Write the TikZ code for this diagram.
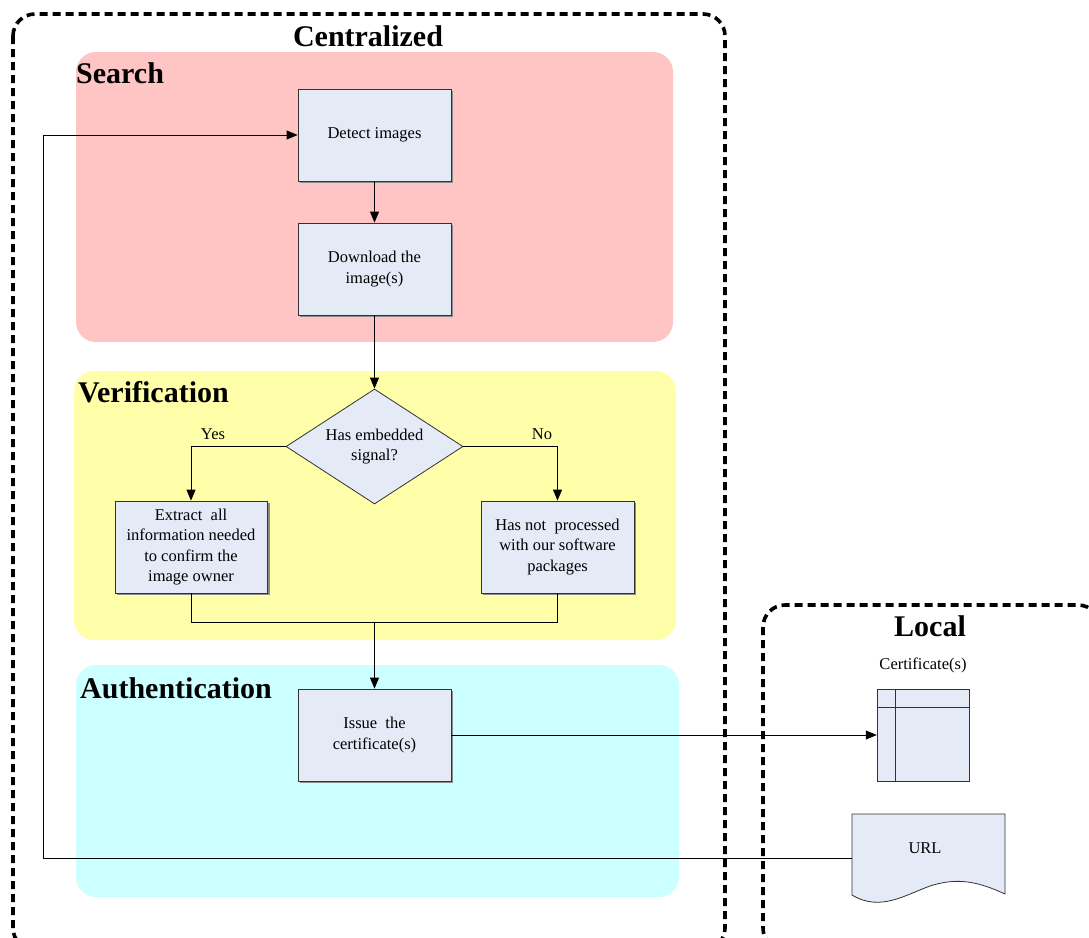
\documentclass[tikz,border=0pt]{standalone}
\usepackage{fontspec}
\setmainfont{Liberation Serif}
\usetikzlibrary{shapes.geometric,arrows.meta,calc}
\definecolor{pinkbg}{RGB}{255,196,196}
\definecolor{yellowbg}{RGB}{255,255,170}
\definecolor{cyanbg}{RGB}{204,255,255}
\definecolor{boxfill}{RGB}{228,235,247}
\definecolor{boxline}{RGB}{50,50,50}
\tikzset{
  region/.style={rounded corners=20pt},
  group/.style={draw=black, line width=3.6pt, dash pattern=on 8pt off 5pt, rounded corners=22pt},
  procbox/.style={draw=boxline, fill=boxfill, line width=0.8pt, minimum width=153pt, minimum height=92pt, align=center, font=\fontsize{16.5}{20.5}\selectfont, inner sep=2pt},
  decision/.style={diamond, draw=boxline, fill=boxfill, line width=0.8pt, minimum width=177pt, minimum height=115pt, aspect=1.54, inner sep=0pt, align=center, font=\fontsize{16.5}{20.5}\selectfont},
  conn/.style={draw=black, line width=0.8pt},
  arr/.style={conn, -{Triangle[length=11pt,width=9pt]}},
  regtitle/.style={font=\fontsize{30}{34}\selectfont\bfseries, anchor=west, inner sep=0pt},
  grptitle/.style={font=\fontsize{30}{34}\selectfont\bfseries, inner sep=0pt},
  lbl/.style={font=\fontsize{16.5}{20}\selectfont, inner sep=0pt},
}
\begin{document}
\begin{tikzpicture}[x=1pt,y=-1pt]
\useasboundingbox (0,0) rectangle (1089,937);
% regions
\fill[pinkbg, region] (76,52) rectangle (673,342);
\fill[yellowbg, region] (74,371) rectangle (676,640);
\fill[cyanbg, region] (76,665) rectangle (679,897);
% group boxes
\draw[group] (13,14) rectangle (725,950);
\draw[group] (763,605) rectangle (1100,950);
\node[grptitle] (tcent) at (368,36) {Centralized};
\node[grptitle] (tloc) at (930,626) {Local};
\node[regtitle] (tsearch) at (76,73) {Search};
\node[regtitle] (tver) at (78,392) {Verification};
\node[regtitle] (tauth) at (80,688) {Authentication};
% shadows
\foreach \xa/\ya in {298/89, 298/223, 115/501, 481/501, 298/689}
  \fill[black!45] (\xa+1.5,\ya+1.5) rectangle (\xa+154.5,\ya+93.5);
% process nodes
\node[procbox] (detect) at (374.5,135) {Detect images};
\node[procbox] (download) at (374.5,269) {Download the\\image(s)};
\node[decision] (dec) at (374.5,446.5) {Has embedded\\signal?};
\node[procbox, minimum width=152pt] (extract) at (191,547) {Extract\ \ all\\information needed\\to confirm the\\image owner};
\node[procbox] (hasnot) at (557.5,547) {Has not\ \ processed\\with our software\\packages};
\node[procbox] (issue) at (374.5,735) {Issue\ \ the\\certificate(s)};
% certificate icon
\draw[boxline, fill=boxfill, line width=0.8pt] (877,689) rectangle (969,781);
\node[inner sep=0pt, minimum width=92pt, minimum height=92pt] (cert) at (923,735) {};
\draw[boxline, line width=0.8pt] (877,707) -- (969,707);
\draw[boxline, line width=0.8pt] (895.5,689) -- (895.5,781);
\node[lbl] (certlbl) at (923,665) {Certificate(s)};
% URL document
\draw[boxline, fill=boxfill, line width=0.8pt] (852,814) -- (1005,814) -- (1005,894)
  .. controls (975,880) and (955,878) .. (930,886)
  .. controls (905,895) and (880,912) .. (852,895) -- cycle;
\node[lbl] (url) at (925,848) {URL};
\coordinate (urlin) at (852,858);
% connectors
\draw[arr] (detect) -- (download);
\draw[arr] (download.south) -- (dec.north);
\draw[arr] (dec.west) -| (extract.north);
\draw[arr] (dec.east) -| (hasnot.north);
\node[lbl] (yes) at (213,434) {Yes};
\node[lbl] (no) at (542,434) {No};
\coordinate (merge) at (374.5,622);
\draw[conn] (extract.south) |- (merge);
\draw[conn] (hasnot.south) |- (merge);
\draw[arr] (merge) -- (issue.north);
\draw[arr] (issue.east) -- (cert.west);
\draw[arr] (urlin) -- (43,858) -- (43,135) -- (detect.west);
\end{tikzpicture}
\end{document}
